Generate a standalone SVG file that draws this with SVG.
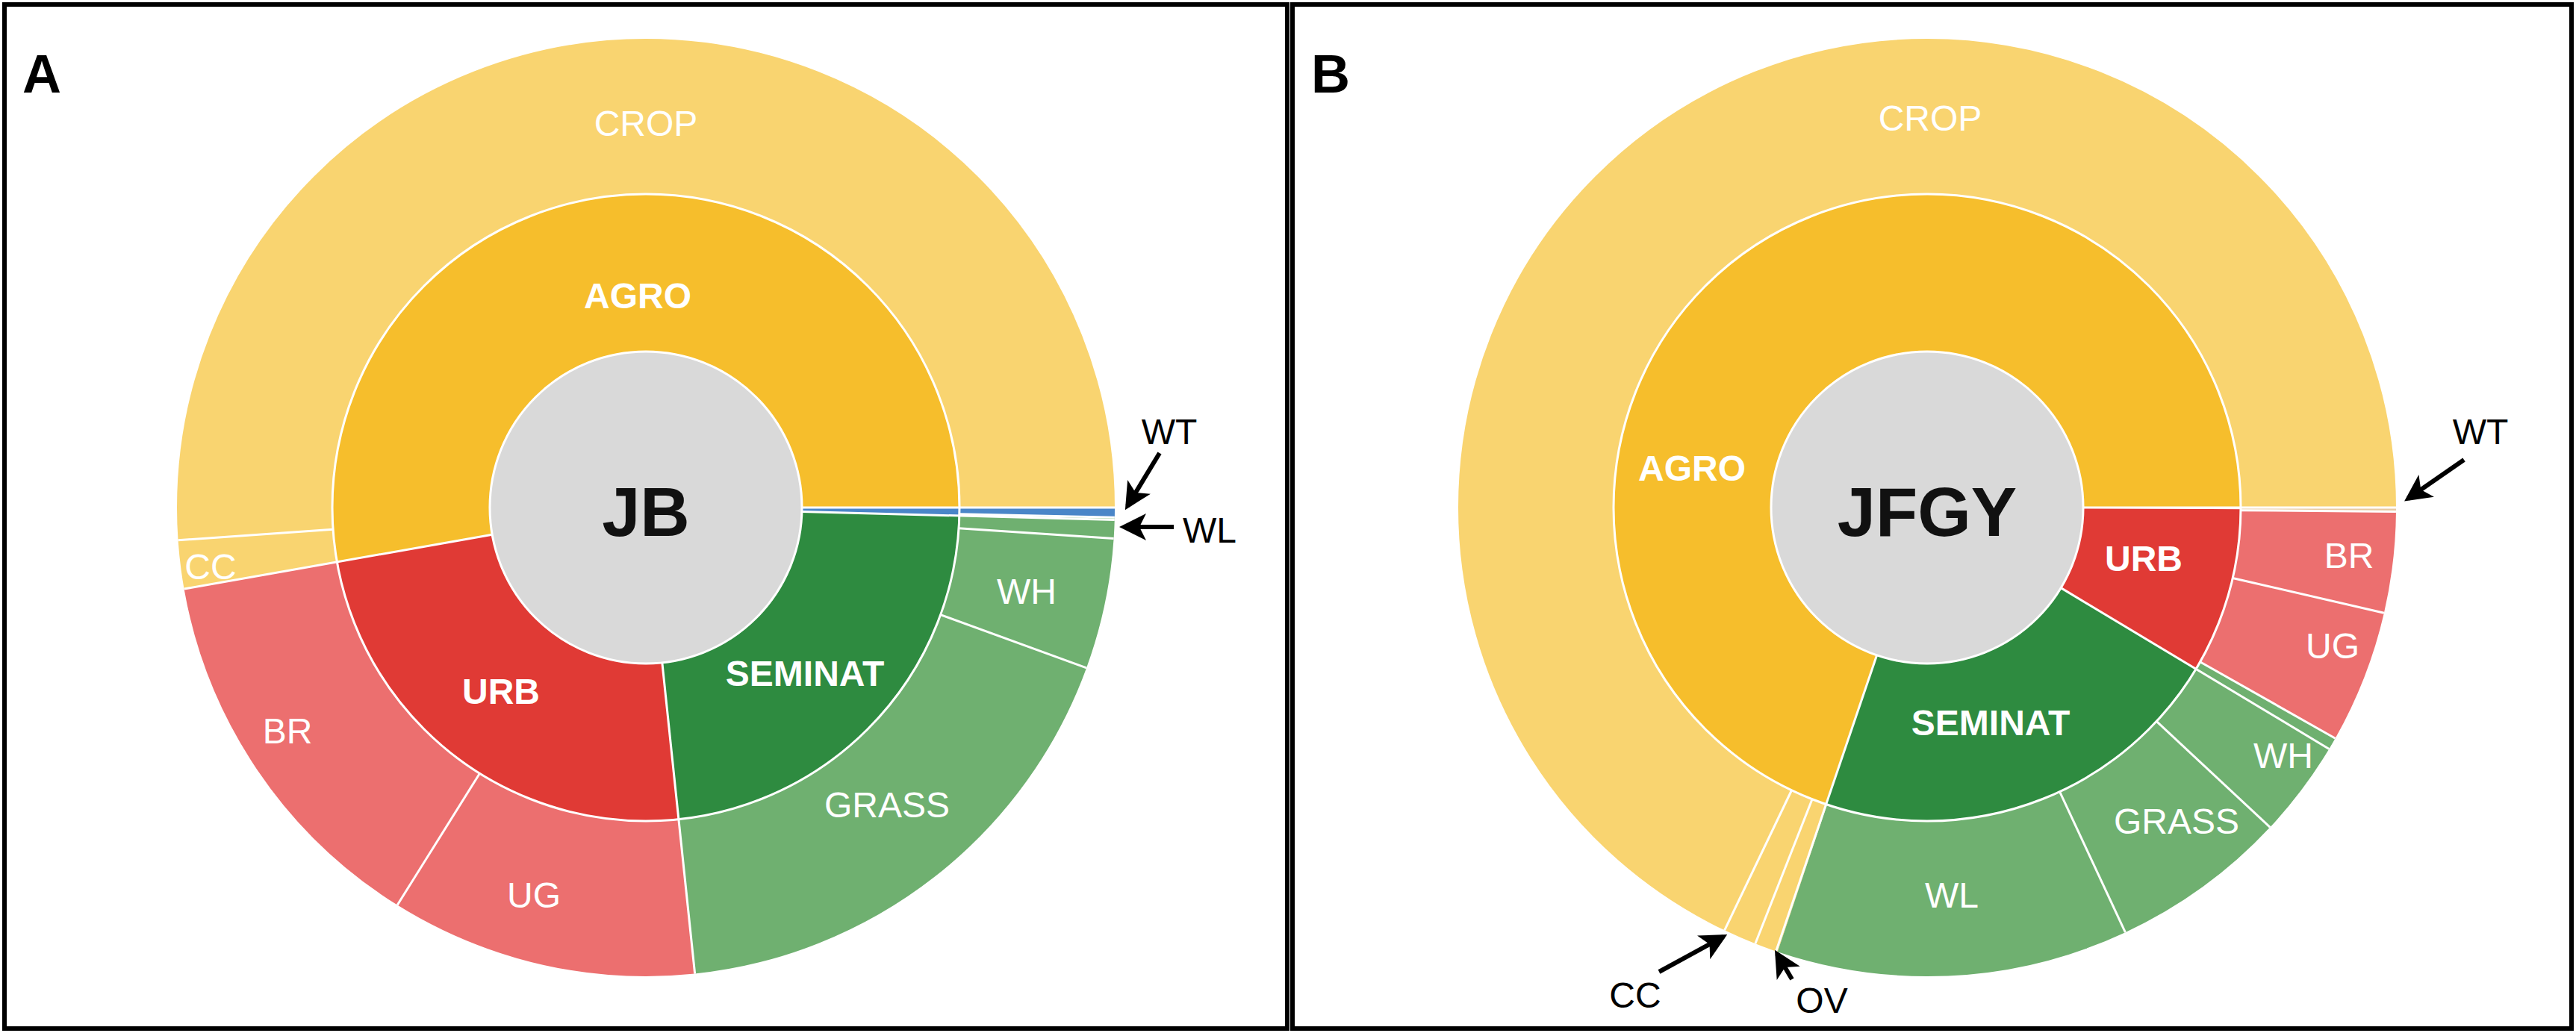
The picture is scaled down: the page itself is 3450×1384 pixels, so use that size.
<svg xmlns="http://www.w3.org/2000/svg" width="3450" height="1384" viewBox="0 0 3450 1384">
<defs>
<marker id="ah" markerWidth="6" markerHeight="6" refX="5" refY="3" orient="auto" markerUnits="strokeWidth"><path d="M0,0 L6,3 L0,6 L1.5,3 Z" fill="#000"/></marker>
</defs>
<style>
.m{fill:none;stroke-width:211}
.o{fill:none;stroke-width:208}
.sep{stroke:#fff;stroke-width:3}
.lab{font-family:"Liberation Sans",Arial,sans-serif;font-size:48px;fill:#fff;text-anchor:middle;dominant-baseline:central}
.b{font-weight:bold}
.blk{fill:#000}
.big{font-family:"Liberation Sans",Arial,sans-serif;font-size:92px;font-weight:bold;fill:#111;text-anchor:middle;dominant-baseline:central}
.pl{font-family:"Liberation Sans",Arial,sans-serif;font-size:72px;font-weight:bold;fill:#000}
.arr{stroke:#000;stroke-width:6;fill:none;marker-end:url(#ah)}
</style>
<rect width="3450" height="1384" fill="#fff"/>
<rect x="6" y="6" width="1718" height="1372" fill="none" stroke="#000" stroke-width="6"/>
<rect x="1731" y="6" width="1713" height="1372" fill="none" stroke="#000" stroke-width="6"/>

<g id="chartA" transform="translate(865,680)">
<g id="A-middle">
<circle r="314.5" class="m" stroke="#f6be2c" pathLength="360" stroke-dasharray="190 360" stroke-dashoffset="-170"/>
<circle r="314.5" class="m" stroke="#e03a35" pathLength="360" stroke-dasharray="86 360" stroke-dashoffset="-84"/>
<circle r="314.5" class="m" stroke="#2e8b40" pathLength="360" stroke-dasharray="82.5 360" stroke-dashoffset="-1.5"/>
<circle r="314.5" class="m" stroke="#4a86c8" pathLength="360" stroke-dasharray="1.5 360" stroke-dashoffset="0"/>
</g>
<g id="A-outer">
<circle r="524" class="o" stroke="#f9d470" pathLength="360" stroke-dasharray="184 360" stroke-dashoffset="-176"/>
<circle r="524" class="o" stroke="#f9d470" pathLength="360" stroke-dasharray="6 360" stroke-dashoffset="-170"/>
<circle r="524" class="o" stroke="#ec6f6f" pathLength="360" stroke-dasharray="48 360" stroke-dashoffset="-122"/>
<circle r="524" class="o" stroke="#ec6f6f" pathLength="360" stroke-dasharray="38 360" stroke-dashoffset="-84"/>
<circle r="524" class="o" stroke="#6fb070" pathLength="360" stroke-dasharray="64 360" stroke-dashoffset="-20"/>
<circle r="524" class="o" stroke="#6fb070" pathLength="360" stroke-dasharray="16.2 360" stroke-dashoffset="-3.8"/>
<circle r="524" class="o" stroke="#6fb070" pathLength="360" stroke-dasharray="2.6 360" stroke-dashoffset="-1.2"/>
<circle r="524" class="o" stroke="#4a86c8" pathLength="360" stroke-dasharray="1.2 360" stroke-dashoffset="0"/>
</g>
<g id="A-sep">
<line x1="209" x2="628" class="sep" transform="rotate(0)"/>
<line x1="209" x2="628" class="sep" transform="rotate(170)"/>
<line x1="209" x2="628" class="sep" transform="rotate(84)"/>
<line x1="209" x2="628" class="sep" transform="rotate(1.5)"/>
<line x1="420" x2="628" class="sep" transform="rotate(176)"/>
<line x1="420" x2="628" class="sep" transform="rotate(122)"/>
<line x1="420" x2="628" class="sep" transform="rotate(20)"/>
<line x1="420" x2="628" class="sep" transform="rotate(3.8)"/>
<line x1="420" x2="628" class="sep" transform="rotate(1.2)"/>
<circle r="420" fill="none" class="sep"/>
</g>
<circle id="A-core" r="209" fill="#d9d9d9" stroke="#fff" stroke-width="3"/>
</g>

<g id="chartB" transform="translate(2581,680)">
<g id="B-middle">
<circle r="314.5" class="m" stroke="#f6be2c" pathLength="360" stroke-dasharray="251 360" stroke-dashoffset="-109"/>
<circle r="314.5" class="m" stroke="#e03a35" pathLength="360" stroke-dasharray="30.7 360" stroke-dashoffset="-0.3"/>
<circle r="314.5" class="m" stroke="#2e8b40" pathLength="360" stroke-dasharray="78 360" stroke-dashoffset="-31"/>
</g>
<g id="B-outer">
<circle r="524" class="o" stroke="#f9d470" pathLength="360" stroke-dasharray="244.4 360" stroke-dashoffset="-115.6"/>
<circle r="524" class="o" stroke="#f9d470" pathLength="360" stroke-dasharray="4.1 360" stroke-dashoffset="-111.5"/>
<circle r="524" class="o" stroke="#f9d470" pathLength="360" stroke-dasharray="2.9 360" stroke-dashoffset="-108.6"/>
<circle r="524" class="o" stroke="#6fb070" pathLength="360" stroke-dasharray="43.6 360" stroke-dashoffset="-65"/>
<circle r="524" class="o" stroke="#6fb070" pathLength="360" stroke-dasharray="22 360" stroke-dashoffset="-43"/>
<circle r="524" class="o" stroke="#6fb070" pathLength="360" stroke-dasharray="13.5 360" stroke-dashoffset="-29.5"/>
<circle r="524" class="o" stroke="#ec6f6f" pathLength="360" stroke-dasharray="16.5 360" stroke-dashoffset="-13"/>
<circle r="524" class="o" stroke="#ec6f6f" pathLength="360" stroke-dasharray="12.5 360" stroke-dashoffset="-0.5"/>
<circle r="524" class="o" stroke="#e8c9a0" pathLength="360" stroke-dasharray="0.5 360" stroke-dashoffset="0"/>
</g>
<g id="B-sep">
<line x1="209" x2="628" class="sep" transform="rotate(0)"/>
<line x1="209" x2="628" class="sep" transform="rotate(31)"/>
<line x1="209" x2="628" class="sep" transform="rotate(108.8)"/>
<line x1="420" x2="628" class="sep" transform="rotate(115.6)"/>
<line x1="420" x2="628" class="sep" transform="rotate(111.5)"/>
<line x1="420" x2="628" class="sep" transform="rotate(65)"/>
<line x1="420" x2="628" class="sep" transform="rotate(43)"/>
<line x1="420" x2="628" class="sep" transform="rotate(29.5)"/>
<line x1="420" x2="628" class="sep" transform="rotate(13)"/>
<line x1="420" x2="628" class="sep" transform="rotate(0.5)"/>
<circle r="420" fill="none" class="sep"/>
</g>
<circle id="B-core" r="209" fill="#d9d9d9" stroke="#fff" stroke-width="3"/>
</g>

<g id="connectors">
<line x1="1553" y1="607" x2="1510" y2="678" class="arr"/>
<line x1="1572" y1="706" x2="1505" y2="706" class="arr"/>
<line x1="3300" y1="616" x2="3225" y2="668" class="arr"/>
<line x1="2222" y1="1302" x2="2308" y2="1255" class="arr"/>
<line x1="2400" y1="1312" x2="2380" y2="1278" class="arr"/>
</g>

<g id="labels">
<text x="30" y="124" class="pl">A</text>
<text x="1756" y="124" class="pl">B</text>
<text x="865" y="686" class="big">JB</text>
<text x="2581" y="686" class="big">JFGY</text>
<text x="865" y="165" class="lab">CROP</text>
<text x="854" y="396" class="lab b">AGRO</text>
<text x="282" y="759" class="lab">CC</text>
<text x="385" y="979" class="lab">BR</text>
<text x="671" y="926" class="lab b">URB</text>
<text x="715" y="1199" class="lab">UG</text>
<text x="1078" y="902" class="lab b">SEMINAT</text>
<text x="1188" y="1078" class="lab">GRASS</text>
<text x="1375" y="792" class="lab">WH</text>
<text x="1566" y="578" class="lab blk">WT</text>
<text x="1620" y="710" class="lab blk">WL</text>
<text x="2585" y="158" class="lab">CROP</text>
<text x="2266" y="627" class="lab b">AGRO</text>
<text x="2871" y="748" class="lab b">URB</text>
<text x="3146" y="744" class="lab">BR</text>
<text x="3124" y="865" class="lab">UG</text>
<text x="2666" y="968" class="lab b">SEMINAT</text>
<text x="3058" y="1012" class="lab">WH</text>
<text x="2915" y="1100" class="lab">GRASS</text>
<text x="2614" y="1199" class="lab">WL</text>
<text x="3322" y="578" class="lab blk">WT</text>
<text x="2190" y="1333" class="lab blk">CC</text>
<text x="2440" y="1340" class="lab blk">OV</text>
</g>
</svg>
